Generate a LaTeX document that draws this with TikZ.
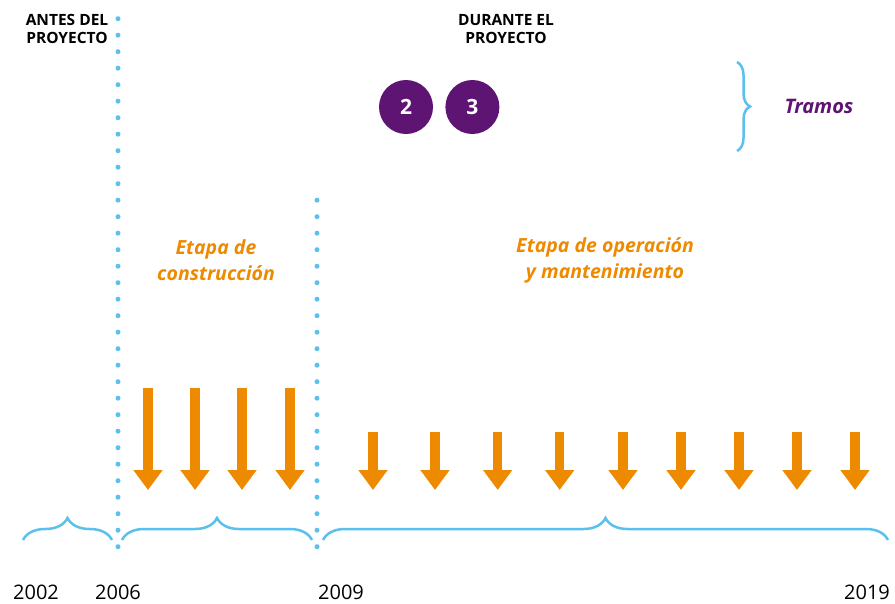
\documentclass[tikz,border=0pt]{standalone}
\usepackage{fontspec}
\setmainfont{Open Sans}
\usetikzlibrary{arrows.meta, positioning, decorations.pathreplacing}
\definecolor{tramopurple}{HTML}{5E1472}
\definecolor{etapaorange}{HTML}{EE8A00}
\definecolor{lineblue}{HTML}{5BC0EB}
\tikzset{
  phasetitle/.style={
    align=center, inner sep=0pt,
    font=\fontsize{15.5}{18}\selectfont\bfseries
  },
  stagelabel/.style={
    align=center, inner sep=0pt, text=etapaorange,
    font=\fontsize{19.5}{26}\selectfont\bfseries\itshape
  },
  tramocircle/.style={
    circle, fill=tramopurple, text=white, minimum size=54pt, inner sep=0pt,
    font=\fontsize{21}{24}\selectfont\bfseries
  },
  yearlabel/.style={
    inner sep=0pt, font=\fontsize{20}{22}\selectfont
  },
  dotline/.style={
    lineblue, line width=5pt, line cap=round, dash pattern=on 0pt off 16.5pt
  },
  timebrace/.style={
    lineblue, line width=2.5pt, decorate, decoration={brace, amplitude=22pt}
  },
  bigarrow/.style={
    etapaorange, line width=9.5pt, -{Triangle[width=28pt, length=20pt]}
  }
}

\begin{document}
\begin{tikzpicture}[x=1pt, y=-1pt]
    \useasboundingbox (0,0) rectangle (895,603);

    % phase titles
    \node[phasetitle] (antes) at (67,29) {ANTES DEL\\PROYECTO};
    \node[phasetitle] (durante) at (506,29) {DURANTE EL\\PROYECTO};

    % dotted separators
    \coordinate (sepAbot) at (118,546.7);
    \coordinate (sepAtop) at (118,15);
    \coordinate (sepBbot) at (317,546.7);
    \coordinate (sepBtop) at (317,184);
    \draw[dotline] (sepAbot) -- (sepAtop);
    \draw[dotline] (sepBbot) -- (sepBtop);

    % tramos
    \node[tramocircle] (t2) at (406,107) {2};
    \node[tramocircle, right=12pt of t2] (t3) {3};
    \coordinate (trTop) at (737,62);
    \coordinate (trBot) at (737,151);
    \draw[timebrace, decoration={amplitude=13pt}] (trTop) -- (trBot);
    \node[text=tramopurple, font=\fontsize{20}{22}\selectfont\bfseries\itshape,
      inner sep=0pt] (tramos) at (819,106) {Tramos};

    % stages
    \node[stagelabel] (constr) at (216,260) {Etapa de\\construcción};
    \node[stagelabel] (opera) at (605,260) {Etapa de operación\\y mantenimiento};

    % arrows
    \foreach \ax in {148,195,242,290}
      \draw[bigarrow] (\ax,388) -- (\ax,490);
    \foreach \ax in {373,435,497.7,559.7,623,681,739,797,855}
      \draw[bigarrow] (\ax,432) -- (\ax,490);

    % time braces
    \coordinate (b1s) at (23,540);
    \coordinate (b1e) at (112,540);
    \coordinate (b2s) at (122,540);
    \coordinate (b2e) at (312,540);
    \coordinate (b3s) at (323,540);
    \coordinate (b3e) at (888,540);
    \draw[timebrace] (b1s) -- (b1e);
    \draw[timebrace] (b2s) -- (b2e);
    \draw[timebrace] (b3s) -- (b3e);

    % years
    \node[yearlabel] (y2002) at (36,592.5) {2002};
    \node[yearlabel] (y2006) at (118,592.5) {2006};
    \node[yearlabel] (y2009) at (341,592.5) {2009};
    \node[yearlabel] (y2019) at (867,592.5) {2019};
\end{tikzpicture}
\end{document}
